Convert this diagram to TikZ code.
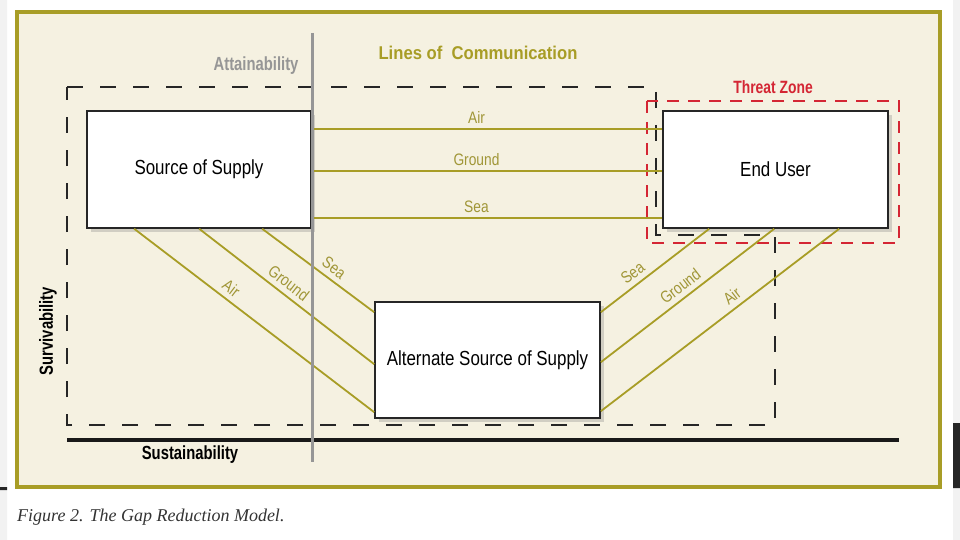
\documentclass[tikz,border=0pt]{standalone}
\usepackage{fontspec}
\setmainfont{Liberation Serif}
\newfontfamily\boxfont[FakeStretch=0.83]{Liberation Sans}
\newfontfamily\headfont[FakeStretch=0.78]{Liberation Sans}
\newfontfamily\titlefont[FakeStretch=0.9]{Liberation Sans}
\usetikzlibrary{calc,shadows}

\definecolor{panelfill}{RGB}{245,241,225}
\definecolor{locolive}{RGB}{168,157,38}
\definecolor{labelolive}{RGB}{160,150,55}
\definecolor{threatred}{RGB}{212,38,52}
\definecolor{attgray}{RGB}{150,150,150}

\begin{document}
\begin{tikzpicture}[x=1pt, y=-1pt,
    panel/.style={draw=locolive, line width=3.5pt, fill=panelfill},
    supply/.style={rectangle, draw=black!85, line width=1.6pt, fill=white,
      font=\boxfont\fontsize{20.4}{22}\selectfont,
      drop shadow={shadow xshift=4pt, shadow yshift=-4pt, opacity=0.3}},
    loc/.style={locolive, line width=1.8pt},
    loclabel/.style={font=\boxfont\fontsize{16.6}{18}\selectfont, text=labelolive, inner sep=1pt},
    zone/.style={dash pattern=on 16pt off 17pt, line width=1.8pt, black!85},
    threat/.style={dash pattern=on 12pt off 9pt, line width=1.6pt, threatred},
    heading/.style={font=\headfont\bfseries\fontsize{19}{21}\selectfont}]
  \useasboundingbox (0,0) rectangle (960,540);
  \fill[black!5] (0,0) rectangle (7,540) (953,0) rectangle (960,540);
  \fill[black!85] (953,423) rectangle (960,488) (0,487) rectangle (7,490);
  \draw[panel] (17,12) rectangle (940,487);
  \draw[zone] (67,87) -- (656,87) -- (656,235) -- (775,235) -- (775,425) -- (67,425) -- cycle;
  \draw[threat] (647,101) rectangle (899,243);
  \draw[black!90, line width=4pt] (67,440) -- (899,440);
  \node[supply, minimum width=224pt, minimum height=117pt] (sos) at (199,169.5) {Source of Supply};
  \node[supply, minimum width=225pt, minimum height=117pt] (user) at (775.5,169.5) {End User};
  \node[supply, minimum width=225pt, minimum height=116pt] (alt) at (487.5,360) {Alternate Source of Supply};
  \foreach \dy/\mode in {19/Air, 61/Ground, 108/Sea}
    \draw[loc] ($(sos.north east)+(0,\dy)$) -- ($(user.north west)+(0,\dy)$)
      node[pos=0.47, above=4pt, loclabel] {\mode};
  \foreach \sx/\ey/\t/\mode in {48/111/0.375/Air, 113/63/0.47/Ground, 176/11/0.58/Sea}
    \draw[loc] ($(sos.south west)+(\sx,0)$) -- ($(alt.north west)+(0,\ey)$)
      node[pos=\t, sloped, above=4pt, loclabel] {\mode};
  \foreach \ey/\ex/\t/\mode in {110/177/0.58/Air, 61/112/0.5/Ground, 11/47/0.36/Sea}
    \draw[loc] ($(alt.north east)+(0,\ey)$) -- ($(user.south west)+(\ex,0)$)
      node[pos=\t, sloped, above=4pt, loclabel] {\mode};
  \draw[attgray, line width=3pt] (312,33) -- (312,462);
  \node[heading, text=attgray, anchor=east] (attain) at (302,66) {Attainability};
  \node[font=\titlefont\bfseries\fontsize{18.5}{20}\selectfont, text=locolive] (loctitle) at (478,53) {Lines of\hspace{0.5em}Communication};
  \node[heading, text=threatred, font=\headfont\bfseries\fontsize{17.8}{19}\selectfont] (threatlbl) at (773,87) {Threat Zone};
  \node[heading] (sustain) at (190,455) {Sustainability};
  \node[heading, rotate=90] (survive) at (48,331) {Survivability};
  \node[anchor=west, font=\itshape\fontsize{18}{20}\selectfont, text=black!80, inner sep=0pt] (caption) at (17,517) {Figure 2. The Gap Reduction Model.};
\end{tikzpicture}
\end{document}
